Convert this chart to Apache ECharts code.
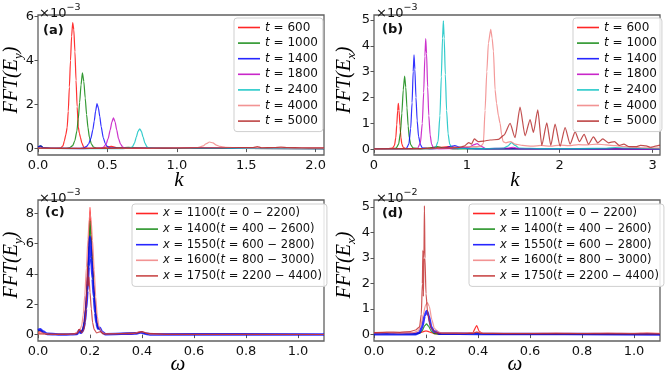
<!DOCTYPE html>
<html><head><meta charset="utf-8">
<script src="https://cdn.jsdelivr.net/npm/echarts@6/dist/echarts.min.js"></script>
<style>html,body{margin:0;padding:0;background:#fff}#c{width:667px;height:375px}</style>
</head><body><div id="c"></div>
<script>
// ---------- Panel (a): FFT(E_y) vs k  (units 1e-3) ----------
const legendA = ['600','1000','1400','1800','2400','4000','5000'];
const a600 = [[0,0.05],[0.02,0.1],[0.04,0.03],[0.1,0.01],[0.16,0.02],[0.18,0.12],[0.19,0.35],[0.2,0.62],[0.21,0.95],[0.218,1.7],[0.226,2.8],[0.234,4.0],[0.242,5.1],[0.25,5.73],[0.258,5.4],[0.266,4.4],[0.274,3.1],[0.282,1.9],[0.29,1.0],[0.298,0.7],[0.306,0.5],[0.316,0.25],[0.33,0.06],[0.36,0.01],[0.45,0.02],[0.5,0.08],[0.53,0.1],[0.57,0.03],[0.7,0.01],[1.0,0.01],[2.06,0.0]];
const a1000 = [[0,0.06],[0.02,0.12],[0.04,0.04],[0.1,0.01],[0.2,0.01],[0.23,0.05],[0.25,0.14],[0.265,0.35],[0.28,0.8],[0.29,1.35],[0.3,2.1],[0.31,2.9],[0.32,3.44],[0.33,3.05],[0.34,2.3],[0.35,1.55],[0.36,0.95],[0.37,0.52],[0.385,0.2],[0.4,0.07],[0.42,0.02],[0.5,0.01],[0.6,0.03],[0.65,0.06],[0.7,0.03],[0.8,0.01],[2.06,0.0]];
const a1400 = [[0,0.08],[0.02,0.12],[0.04,0.03],[0.1,0.01],[0.3,0.01],[0.33,0.04],[0.35,0.1],[0.365,0.22],[0.38,0.45],[0.395,0.85],[0.405,1.25],[0.415,1.7],[0.425,2.04],[0.435,1.85],[0.445,1.45],[0.455,1.0],[0.47,0.5],[0.485,0.22],[0.5,0.09],[0.52,0.03],[0.6,0.01],[0.8,0.02],[0.9,0.03],[1.0,0.01],[2.06,0.0]];
const a1800 = [[0,0.02],[0.3,0.0],[0.45,0.02],[0.47,0.06],[0.49,0.2],[0.505,0.45],[0.52,0.85],[0.532,1.2],[0.543,1.4],[0.555,1.22],[0.567,0.85],[0.58,0.45],[0.595,0.2],[0.61,0.07],[0.63,0.02],[0.7,0.01],[1.0,0.02],[1.1,0.04],[1.2,0.02],[2.06,0.01]];
const a2400 = [[0,0.01],[0.6,0.0],[0.66,0.02],[0.68,0.08],[0.695,0.25],[0.708,0.52],[0.72,0.78],[0.733,0.9],[0.745,0.78],[0.757,0.52],[0.77,0.25],[0.785,0.08],[0.8,0.03],[0.85,0.02],[0.9,0.03],[1.0,0.01],[2.06,0.0]];
const a4000 = [[0,0.01],[0.8,0.01],[0.9,0.03],[1.0,0.04],[1.08,0.03],[1.15,0.05],[1.19,0.12],[1.21,0.22],[1.235,0.3],[1.26,0.26],[1.285,0.16],[1.31,0.1],[1.35,0.06],[1.45,0.04],[1.55,0.03],[1.7,0.04],[1.85,0.02],[2.06,0.02]];
const a5000 = [[0,0.02],[0.3,0.01],[0.6,0.02],[0.9,0.02],[1.1,0.03],[1.3,0.03],[1.45,0.05],[1.55,0.05],[1.58,0.09],[1.61,0.04],[1.7,0.05],[1.75,0.07],[1.8,0.05],[1.9,0.04],[2.0,0.03],[2.06,0.03]];

// ---------- Panel (b): FFT(E_x) vs k  (units 1e-3) ----------
const b600 = [[0,0.02],[0.15,0.02],[0.2,0.05],[0.22,0.15],[0.235,0.45],[0.245,0.95],[0.255,1.5],[0.262,1.78],[0.27,1.5],[0.28,0.9],[0.29,0.45],[0.3,0.2],[0.315,0.08],[0.34,0.03],[0.5,0.02],[0.6,0.05],[0.7,0.08],[0.8,0.1],[0.9,0.07],[1.0,0.05],[1.2,0.03],[3.08,0.02]];
const b1000 = [[0,0.02],[0.2,0.02],[0.24,0.05],[0.265,0.2],[0.285,0.65],[0.3,1.4],[0.315,2.3],[0.33,2.83],[0.342,2.4],[0.355,1.6],[0.368,0.9],[0.38,0.45],[0.395,0.18],[0.42,0.06],[0.5,0.02],[0.6,0.05],[0.68,0.1],[0.75,0.06],[0.85,0.02],[3.08,0.01]];
const b1400 = [[0,0.02],[0.3,0.01],[0.35,0.04],[0.375,0.2],[0.395,0.8],[0.41,1.8],[0.422,3.0],[0.431,3.65],[0.44,3.1],[0.452,2.0],[0.465,1.1],[0.48,0.5],[0.5,0.18],[0.52,0.06],[0.6,0.02],[0.75,0.04],[0.82,0.1],[0.87,0.14],[0.93,0.08],[1.0,0.03],[1.1,0.02],[3.08,0.01]];
const b1800 = [[0,0.01],[0.4,0.01],[0.47,0.04],[0.5,0.25],[0.52,1.0],[0.535,2.2],[0.548,3.6],[0.557,4.28],[0.566,3.7],[0.578,2.4],[0.59,1.3],[0.605,0.55],[0.62,0.2],[0.64,0.06],[0.7,0.02],[0.9,0.03],[1.02,0.08],[1.08,0.18],[1.11,0.22],[1.15,0.12],[1.2,0.03],[1.45,0.05],[1.5,0.08],[1.55,0.03],[3.08,0.01]];
const b2400 = [[0,0.01],[0.6,0.01],[0.66,0.04],[0.69,0.3],[0.71,1.3],[0.725,2.8],[0.738,4.3],[0.747,4.96],[0.756,4.3],[0.768,2.9],[0.782,1.5],[0.798,0.6],[0.815,0.2],[0.84,0.06],[0.9,0.03],[1.0,0.04],[1.2,0.03],[1.4,0.05],[1.44,0.12],[1.48,0.26],[1.52,0.15],[1.56,0.05],[1.8,0.03],[2.2,0.03],[2.5,0.04],[2.6,0.07],[2.7,0.05],[3.08,0.02]];
const b4000 = [[0,0.01],[0.6,0.02],[0.8,0.05],[0.9,0.08],[1.0,0.1],[1.1,0.1],[1.15,0.12],[1.178,0.23],[1.196,1.5],[1.215,3.0],[1.232,4.1],[1.257,4.64],[1.272,4.3],[1.286,3.8],[1.304,2.3],[1.32,1.78],[1.34,1.3],[1.358,1.0],[1.375,0.55],[1.39,0.3],[1.42,0.25],[1.47,0.3],[1.52,0.2],[1.6,0.15],[1.7,0.12],[1.8,0.15],[1.9,0.12],[2.0,0.16],[2.1,0.14],[2.2,0.18],[2.3,0.17],[2.4,0.2],[2.5,0.17],[2.6,0.14],[2.7,0.1],[2.8,0.08],[2.9,0.06],[3.08,0.05]];
const b5000 = [[0,0.02],[0.5,0.03],[0.7,0.05],[0.9,0.06],[0.97,0.12],[1.02,0.26],[1.05,0.2],[1.08,0.4],[1.12,0.3],[1.18,0.32],[1.25,0.36],[1.34,0.38],[1.4,0.55],[1.466,1.0],[1.519,0.45],[1.573,1.63],[1.627,0.52],[1.681,1.15],[1.717,0.65],[1.764,1.52],[1.807,0.15],[1.861,1.02],[1.904,0.15],[1.95,0.97],[2.004,0.12],[2.058,0.84],[2.112,0.2],[2.166,0.67],[2.212,0.3],[2.263,0.58],[2.31,0.2],[2.363,0.48],[2.41,0.25],[2.464,0.4],[2.525,0.25],[2.59,0.3],[2.64,0.15],[2.69,0.2],[2.75,0.1],[2.82,0.1],[2.87,0.15],[2.93,0.13],[2.98,0.08],[3.03,0.12],[3.08,0.16]];

// ---------- Panel (c): FFT(E_y) vs omega (units 1e-3) ----------
const legendCx = ['1100','1400','1550','1600','1750'];
const legendCt = ['0 − 2200','400 − 2600','600 − 2800','800 − 3000','2200 − 4400'];
const c1100 = [[0,0.15],[0.01,0.2],[0.025,0.08],[0.05,0.02],[0.12,0.02],[0.15,0.1],[0.158,0.35],[0.164,0.2],[0.17,0.3],[0.175,0.6],[0.18,1.2],[0.185,2.3],[0.19,3.9],[0.195,5.9],[0.2,8.4],[0.205,6.6],[0.21,4.9],[0.215,3.3],[0.22,2.0],[0.225,1.0],[0.231,0.45],[0.238,0.35],[0.245,0.15],[0.26,0.05],[0.3,0.02],[0.36,0.04],[0.38,0.12],[0.395,0.2],[0.41,0.12],[0.43,0.03],[0.5,0.01],[1.1,0.01]];
const c1400 = [[0,0.25],[0.01,0.3],[0.025,0.1],[0.05,0.02],[0.15,0.05],[0.158,0.3],[0.164,0.15],[0.17,0.25],[0.175,0.5],[0.18,1.0],[0.185,2.0],[0.19,3.4],[0.195,5.2],[0.2,7.5],[0.205,5.9],[0.21,4.3],[0.215,2.9],[0.22,1.7],[0.225,0.85],[0.231,0.4],[0.238,0.4],[0.245,0.15],[0.26,0.03],[0.38,0.1],[0.395,0.18],[0.41,0.1],[0.43,0.02],[1.1,0.01]];
const c1550 = [[0,0.3],[0.008,0.35],[0.02,0.2],[0.035,0.05],[0.1,0.01],[0.15,0.04],[0.158,0.25],[0.164,0.12],[0.17,0.2],[0.175,0.4],[0.18,0.85],[0.185,1.7],[0.19,2.9],[0.195,4.5],[0.2,6.45],[0.205,5.1],[0.21,3.7],[0.215,2.5],[0.22,1.45],[0.225,0.75],[0.231,0.4],[0.238,0.45],[0.245,0.2],[0.26,0.03],[0.38,0.08],[0.395,0.15],[0.41,0.08],[0.43,0.02],[1.1,0.01]];
const c1600 = [[0,0.1],[0.02,0.1],[0.05,0.02],[0.14,0.05],[0.155,0.2],[0.162,0.35],[0.168,0.6],[0.174,1.3],[0.18,2.6],[0.186,4.4],[0.192,6.3],[0.197,7.6],[0.2,8.0],[0.204,7.6],[0.21,6.2],[0.216,4.3],[0.222,2.5],[0.228,1.2],[0.235,0.5],[0.245,0.18],[0.26,0.05],[0.37,0.08],[0.39,0.2],[0.41,0.15],[0.43,0.04],[0.6,0.01],[1.1,0.01]];
const c1750 = [[0,0.05],[0.1,0.02],[0.15,0.06],[0.16,0.35],[0.168,0.12],[0.176,0.3],[0.181,0.8],[0.185,1.8],[0.188,3.0],[0.191,4.5],[0.193,3.2],[0.196,3.8],[0.2,2.8],[0.205,1.7],[0.21,0.8],[0.216,0.35],[0.225,0.12],[0.24,0.2],[0.25,0.05],[0.38,0.1],[0.4,0.2],[0.42,0.08],[0.5,0.02],[1.1,0.01]];

// ---------- Panel (d): FFT(E_x) vs omega (units 1e-2) ----------
const d1100 = [[0,0.05],[0.15,0.05],[0.17,0.06],[0.185,0.1],[0.2,0.15],[0.215,0.1],[0.23,0.04],[0.26,0.02],[0.35,0.02],[0.38,0.08],[0.395,0.35],[0.405,0.12],[0.42,0.03],[0.5,0.01],[1.1,0.01]];
const d1400 = [[0,0.03],[0.16,0.02],[0.175,0.05],[0.185,0.15],[0.195,0.35],[0.202,0.42],[0.21,0.33],[0.22,0.14],[0.232,0.04],[0.25,0.02],[0.4,0.03],[1.1,0.01]];
const d1550 = [[0,0.02],[0.16,0.02],[0.175,0.08],[0.185,0.3],[0.195,0.75],[0.203,0.92],[0.21,0.75],[0.22,0.3],[0.232,0.1],[0.24,0.12],[0.25,0.04],[0.4,0.03],[1.1,0.01]];
const d1600 = [[0,0.07],[0.05,0.08],[0.1,0.06],[0.15,0.08],[0.17,0.15],[0.18,0.35],[0.19,0.8],[0.198,1.15],[0.205,1.25],[0.213,1.1],[0.222,0.6],[0.232,0.25],[0.245,0.12],[0.26,0.06],[0.35,0.05],[0.38,0.08],[0.4,0.1],[0.42,0.05],[0.6,0.05],[0.7,0.07],[0.8,0.05],[0.9,0.07],[1.0,0.05],[1.05,0.08],[1.1,0.05]];
const d1750 = [[0,0.08],[0.05,0.1],[0.1,0.09],[0.14,0.12],[0.16,0.18],[0.175,0.3],[0.182,0.8],[0.186,2.0],[0.188,3.3],[0.19,1.5],[0.192,3.0],[0.194,5.05],[0.196,3.0],[0.2,1.6],[0.206,0.9],[0.213,0.5],[0.22,0.25],[0.235,0.1],[0.25,0.06],[0.38,0.05],[0.395,0.1],[0.41,0.05],[0.5,0.04],[1.1,0.03]];

// tick values
const ticksXa = [0,0.5,1.0,1.5,2.0];
const ticksXb = [0,1,2,3];
const ticksXcd = [0,0.2,0.4,0.6,0.8,1.0];
const ticksYa = [0,2,4,6];
const ticksYb = [0,1,2,3,4,5];
const ticksYc = [0,2,4,6,8];
const ticksYd = [0,1,2,3,4,5];

const colT = ['#ff0000','#008000','#0000ff','#bf00bf','#00bfbf','#f08080','#b22222'];
const colX = ['#ff0000','#008000','#0000ff','#f08080','#c02828'];

const grids = [
  {left:38, top:15, width:286, height:140},
  {left:374, top:15, width:286, height:140},
  {left:38, top:200, width:286, height:141},
  {left:374, top:200, width:286, height:141}
];
const FONT = 'DejaVu Sans';
function xAx(i, max, ticks, fmt){
  return {type:'value', gridIndex:i, min:0, max:max,
    axisLine:{show:false}, splitLine:{show:false},
    axisTick:{show:true, inside:false, length:3.5, lineStyle:{color:'#555', width:1}, customValues:ticks},
    axisLabel:{customValues:ticks, formatter:fmt, margin:4, fontSize:13, color:'#111', fontFamily:FONT, hideOverlap:false}};
}
function yAx(i, min, max, ticks){
  return {type:'value', gridIndex:i, min:min, max:max,
    axisLine:{show:false}, splitLine:{show:false},
    axisTick:{show:true, inside:false, length:3.5, lineStyle:{color:'#555', width:1}, customValues:ticks},
    axisLabel:{customValues:ticks, formatter:v=>String(Math.round(v)), margin:4, fontSize:13, color:'#111', fontFamily:FONT, hideOverlap:false}};
}
const f1 = v => v.toFixed(1);
const f0 = v => String(Math.round(v));

const series = [];
const names = {};
function addSeries(i, key, label, data, color, width){
  series.push({type:'line', name:key, xAxisIndex:i, yAxisIndex:i, data:data,
    symbol:'none', showSymbol:false, smooth:0.2, smoothMonotone:'x',
    lineStyle:{width:width||1.2, color:color, opacity:0.8}, itemStyle:{color:color, opacity:0.8},
    emphasis:{disabled:true}, animation:false});
  names[key] = label;
}
const seriesA = [a600,a1000,a1400,a1800,a2400,a4000,a5000];
const seriesB = [b600,b1000,b1400,b1800,b2400,b4000,b5000];
const seriesC = [c1100,c1400,c1550,c1600,c1750];
const seriesD = [d1100,d1400,d1550,d1600,d1750];
seriesA.forEach((d,j)=>addSeries(0,'a'+j,'{i|t} = '+legendA[j],d,colT[j]));
seriesB.forEach((d,j)=>addSeries(1,'b'+j,'{i|t} = '+legendA[j],d,colT[j]));
seriesC.forEach((d,j)=>addSeries(2,'c'+j,'{i|x} = '+legendCx[j]+'({i|t} = '+legendCt[j]+')',d,colX[j], j===2?2.6:1.2));
seriesD.forEach((d,j)=>addSeries(3,'d'+j,'{i|x} = '+legendCx[j]+'({i|t} = '+legendCt[j]+')',d,colX[j], j===2?2.6:1.2));

function legend(prefix, n, left, top, fs, thickIdx){
  const data = [];
  for (let j=0;j<n;j++) data.push({name:prefix+j, icon:'rect', itemStyle:{opacity:0.85}});
  return {data:data, orient:'vertical', left:left, top:top, itemWidth:22, itemHeight:(thickIdx!==undefined?2:1.6), itemGap:2.6,
    padding:[3,5,4,4], borderColor:'#cfcfcf', borderWidth:1, borderRadius:3,
    backgroundColor:'rgba(255,255,255,0.85)', selectedMode:false,
    formatter: nm => names[nm],
    textStyle:{fontSize:fs, lineHeight:13, fontFamily:FONT, color:'#111', rich:{i:{fontSize:fs, lineHeight:13, fontFamily:FONT, fontStyle:'italic', color:'#111'}}}};
}

function ylab(x, y, sub){
  return {type:'text', x:x, y:y, rotation:Math.PI/2, silent:true,
    style:{text:'{m|FFT(E}{s|'+sub+'}{m|)}', align:'center', verticalAlign:'middle',
      rich:{m:{fontFamily:'Liberation Serif', fontStyle:'italic', fontSize:20, lineHeight:22, verticalAlign:'top', fill:'#000'},
            s:{fontFamily:'Liberation Serif', fontStyle:'italic', fontSize:13, lineHeight:13, padding:[10,0,0,0], verticalAlign:'top', fill:'#000'}}}};
}
function xlab(x, y, t){
  return {type:'text', x:x, y:y, silent:true,
    style:{text:t, align:'center', verticalAlign:'middle', fontFamily:'Liberation Serif', fontStyle:'italic', fontSize:21, fill:'#000'}};
}
function offs(x, y, e){
  return {type:'text', x:x, y:y, silent:true,
    style:{text:'{m|×10}{s|'+e+'}', align:'left', verticalAlign:'middle',
      rich:{m:{fontFamily:FONT, fontSize:13, lineHeight:13, padding:[5,0,0,0], verticalAlign:'top', fill:'#111'},
            s:{fontFamily:FONT, fontSize:9.5, lineHeight:10, verticalAlign:'top', fill:'#111'}}}};
}
function plab(x, y, t){
  return {type:'text', x:x, y:y, silent:true,
    style:{text:t, align:'left', verticalAlign:'middle', fontFamily:FONT, fontWeight:'bold', fontSize:13, fill:'#111'}};
}

const option = {
  backgroundColor:'#fff',
  animation:false,
  grid: grids.map(g=>Object.assign({show:true, borderColor:'#606060', borderWidth:1.3, backgroundColor:'transparent', containLabel:false}, g)),
  xAxis:[xAx(0,2.06,ticksXa,f1), xAx(1,3.08,ticksXb,f0), xAx(2,1.1,ticksXcd,f1), xAx(3,1.1,ticksXcd,f1)],
  yAxis:[yAx(0,-0.29,6.07,ticksYa), yAx(1,-0.22,5.19,ticksYb), yAx(2,-0.42,8.88,ticksYc), yAx(3,-0.25,5.27,ticksYd)],
  legend:[legend('a',7,234,18,12), legend('b',7,573,18,12), legend('c',5,132,204,11.5), legend('d',5,469,204,11.5)],
  series: series,
  graphic:[
    ylab(13,80,'y'), ylab(346,80,'x'), ylab(13,265,'y'), ylab(346,265,'x'),
    xlab(179,180,'k'), xlab(515,180,'k'), xlab(178,364,'ω'), xlab(515,364,'ω'),
    offs(39,9,'−3'), offs(376,9,'−3'), offs(39,194,'−3'), offs(376,194,'−2'),
    plab(43,31,'(a)'), plab(382,30,'(b)'), plab(45,213,'(c)'), plab(382,214,'(d)')
  ]
};
const chart = echarts.init(document.getElementById('c'), null, {renderer:'canvas'});
chart.setOption(option);
</script></body></html>
